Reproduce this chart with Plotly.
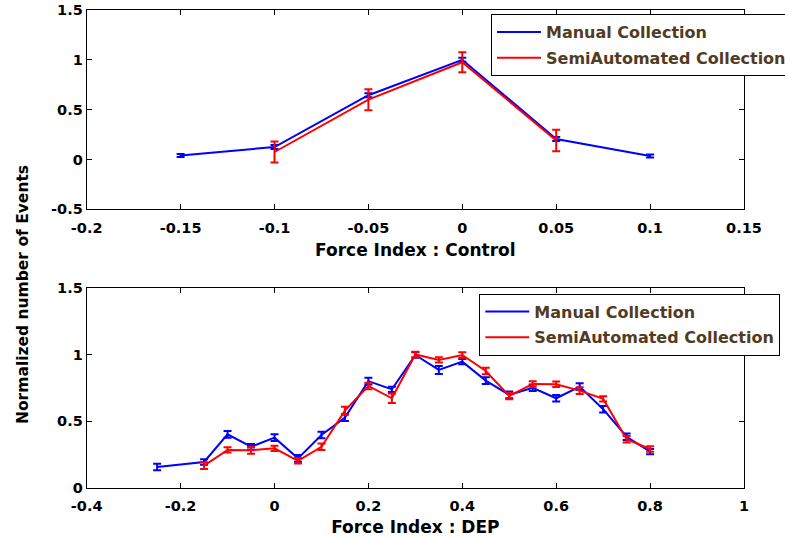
import plotly.graph_objects as go

# ---------------- data: top panel (Force Index : Control) ----------------
ctrl_manual_x = [-0.15, -0.10, -0.05, 0.0, 0.05, 0.10]
ctrl_manual_y = [0.04, 0.125, 0.645, 1.0, 0.205, 0.035]
ctrl_manual_err = [0.015, 0.02, 0.02, 0.02, 0.02, 0.015]

ctrl_semi_x = [-0.10, -0.05, 0.0, 0.05]
ctrl_semi_y = [0.075, 0.60, 0.976, 0.19]
ctrl_semi_err = [0.105, 0.105, 0.10, 0.108]

# ---------------- data: bottom panel (Force Index : DEP) ----------------
dep_manual_x = [-0.25, -0.15, -0.10, -0.05, 0.0, 0.05, 0.10, 0.15, 0.20, 0.25, 0.30,
                0.35, 0.40, 0.45, 0.50, 0.55, 0.60, 0.65, 0.70, 0.75, 0.80]
dep_manual_y = [0.157, 0.195, 0.402, 0.309, 0.377, 0.222, 0.397, 0.527, 0.800, 0.739, 0.996,
                0.884, 0.946, 0.804, 0.697, 0.751, 0.672, 0.759, 0.590, 0.384, 0.272]
dep_manual_err = [0.025, 0.02, 0.025, 0.02, 0.025, 0.025, 0.025, 0.025, 0.025, 0.02, 0.02,
                  0.03, 0.02, 0.025, 0.025, 0.025, 0.025, 0.025, 0.025, 0.025, 0.02]

dep_semi_x = [-0.15, -0.10, -0.05, 0.0, 0.05, 0.10, 0.15, 0.20, 0.25, 0.30,
              0.35, 0.40, 0.45, 0.50, 0.55, 0.60, 0.65, 0.70, 0.75, 0.80]
dep_semi_y = [0.167, 0.285, 0.282, 0.297, 0.204, 0.309, 0.579, 0.764, 0.672, 1.0,
              0.959, 0.996, 0.876, 0.689, 0.779, 0.777, 0.729, 0.667, 0.365, 0.292]
dep_semi_err = [0.025, 0.02, 0.025, 0.02, 0.02, 0.025, 0.03, 0.025, 0.035, 0.02,
                0.02, 0.02, 0.025, 0.025, 0.02, 0.02, 0.025, 0.02, 0.025, 0.02]

# ---------------- ticks ----------------
top_xticks = [-0.2, -0.15, -0.1, -0.05, 0, 0.05, 0.1, 0.15]
top_xlabels = ["-0.2", "-0.15", "-0.1", "-0.05", "0", "0.05", "0.1", "0.15"]
top_yticks = [-0.5, 0, 0.5, 1, 1.5]
top_ylabels = ["-0.5", "0", "0.5", "1", "1.5"]
bot_xticks = [-0.4, -0.2, 0, 0.2, 0.4, 0.6, 0.8, 1]
bot_xlabels = ["-0.4", "-0.2", "0", "0.2", "0.4", "0.6", "0.8", "1"]
bot_yticks = [0, 0.5, 1, 1.5]
bot_ylabels = ["0", "0.5", "1", "1.5"]

series_names = ["Manual Collection", "SemiAutomated Collection"]
BLUE = "#0000ff"
RED = "#ff0000"

FONT = "DejaVu Sans"
W, H = 785, 539


def px_x(p):
    return p / W


def px_y(p):
    return 1 - p / H


fig = go.Figure()


def add_series(x, y, err, color, name, xa, ya, legend, group):
    fig.add_trace(go.Scatter(
        x=x, y=y, mode="lines", name=name,
        line=dict(color=color, width=2),
        error_y=dict(type="data", array=err, visible=True, color=color,
                     thickness=2, width=4),
        xaxis=xa, yaxis=ya, legend=legend, legendgroup=group,
    ))


add_series(ctrl_manual_x, ctrl_manual_y, ctrl_manual_err, BLUE, series_names[0], "x", "y", "legend", "a")
add_series(ctrl_semi_x, ctrl_semi_y, ctrl_semi_err, RED, series_names[1], "x", "y", "legend", "b")
add_series(dep_manual_x, dep_manual_y, dep_manual_err, BLUE, series_names[0], "x2", "y2", "legend2", "c")
add_series(dep_semi_x, dep_semi_y, dep_semi_err, RED, series_names[1], "x2", "y2", "legend2", "d")

tickfont = dict(family=FONT, size=14.5, color="black", weight="bold")
titlefont = dict(family=FONT, size=17, color="black", weight="bold")

axis_common = dict(
    showline=True, linecolor="black", linewidth=1, mirror="ticks",
    ticks="inside", ticklen=5, tickcolor="black", tickwidth=1,
    showgrid=False, zeroline=False, tickfont=tickfont, fixedrange=True,
)

top_dom_x = [px_x(86.7), px_x(744)]
legend_font = dict(family=FONT, size=16, color="#533a22", weight="bold")
fig.update_layout(
    width=W, height=H,
    margin=dict(l=0, r=0, t=0, b=0, autoexpand=False),
    paper_bgcolor="white", plot_bgcolor="white",
    showlegend=True,
    xaxis=dict(domain=top_dom_x, range=[-0.2, 0.15], tickvals=top_xticks, ticktext=top_xlabels,
               anchor="y", ticklabelstandoff=5,
               title=dict(text="Force Index : Control", font=titlefont, standoff=9),
               **axis_common),
    yaxis=dict(domain=[px_y(209.3), px_y(10)], range=[-0.5, 1.5], tickvals=top_yticks,
               ticktext=top_ylabels, anchor="x", **axis_common),
    xaxis2=dict(domain=top_dom_x, range=[-0.4, 1.0], tickvals=bot_xticks, ticktext=bot_xlabels,
                anchor="y2", ticklabelstandoff=5,
                title=dict(text="Force Index : DEP", font=titlefont, standoff=7),
                **axis_common),
    yaxis2=dict(domain=[px_y(488), px_y(287.7)], range=[0, 1.5], tickvals=bot_yticks,
                ticktext=bot_ylabels, anchor="x2", **axis_common),
    legend=dict(x=px_x(491), y=px_y(14), xanchor="left", yanchor="top",
                bgcolor="white", bordercolor="black", borderwidth=1,
                font=legend_font, tracegroupgap=2, itemwidth=44),
    legend2=dict(x=px_x(479.3), y=px_y(293.5), xanchor="left", yanchor="top",
                 bgcolor="white", bordercolor="black", borderwidth=1,
                 font=legend_font, tracegroupgap=2, itemwidth=44),
    annotations=[dict(
        text="Normalized number of Events", x=px_x(23), y=px_y(295), xref="paper", yref="paper",
        showarrow=False, textangle=-90, xanchor="center", yanchor="middle",
        font=dict(family=FONT, size=15.5, color="black", weight="bold"),
    )],
)

fig.write_html("out.html", config={"displayModeBar": False},
               post_script="document.body.style.margin='0';")
